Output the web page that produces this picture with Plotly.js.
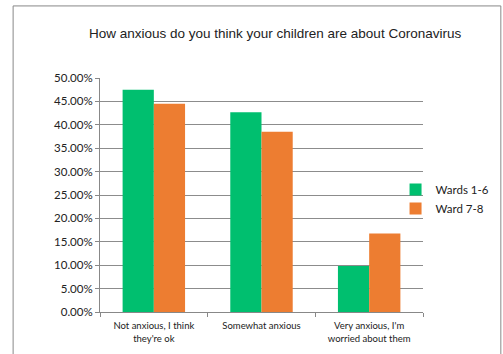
<!DOCTYPE html>
<html><head><meta charset="utf-8">
<script src="https://cdn.plot.ly/plotly-3.0.1.min.js"></script>
<style>html,body{margin:0;padding:0;background:#fff}</style>
</head><body>
<div id="chart" style="width:503px;height:354px"></div>
<script>
const categories = ["Not anxious, I think<br>they're ok", "Somewhat anxious", "Very anxious, I'm<br>worried about them"];
const wards16 = [0.475, 0.427, 0.0985];
const wards78 = [0.445, 0.385, 0.168];
const seriesNames = ["Wards 1-6", "Ward 7-8"];
const yTicks = [0, 0.05, 0.10, 0.15, 0.20, 0.25, 0.30, 0.35, 0.40, 0.45, 0.50];

const traces = [
  {type:'bar', x:categories, y:wards16, name:seriesNames[0], marker:{color:'#00BF6F'}},
  {type:'bar', x:categories, y:wards78, name:seriesNames[1], marker:{color:'#ED7D31'}}
];
const layout = {
  width:503, height:354,
  margin:{l:100, r:80, t:78, b:42, autoexpand:false},
  paper_bgcolor:'#fff', plot_bgcolor:'#fff',
  barmode:'group', bargap:0.42, bargroupgap:0,
  title:{text:'How anxious do you think your children are about Coronavirus', x:0.542, xref:'paper', xanchor:'center', y:0.905, yanchor:'middle', font:{family:'Liberation Sans, Arial', size:13.5, color:'#222'}},
  xaxis:{showgrid:false, showline:true, linecolor:'#888', linewidth:1, ticks:'outside', tickson:'boundaries', ticklen:4, tickcolor:'#888', ticklabelstandoff:5, tickfont:{family:'Lato, Open Sans', size:9.5, color:'#222'}, fixedrange:true},
  yaxis:{range:[0,0.5], tickvals:yTicks, tickformat:'.2%', showgrid:true, gridcolor:'#8c8c8c', gridwidth:1, showline:true, linecolor:'#888', ticks:'outside', ticklen:4, tickcolor:'#888', tickfont:{family:'Lato, Open Sans', size:11.5, color:'#222'}, zeroline:false, fixedrange:true},
  legend:{x:0.915, xanchor:'left', y:0.483, yanchor:'middle', font:{family:'Lato, Open Sans', size:11.5, color:'#222'}, itemwidth:30, tracegroupgap:2, bgcolor:'rgba(0,0,0,0)'},
  shapes:[{type:'rect', xref:'paper', yref:'paper', x0:-0.269, x1:1.241, y0:-0.6, y1:1.308, line:{color:'#888', width:1}, fillcolor:'rgba(0,0,0,0)', layer:'below'}]
};
Plotly.newPlot('chart', traces, layout, {displayModeBar:false, staticPlot:true});
</script>
</body></html>
